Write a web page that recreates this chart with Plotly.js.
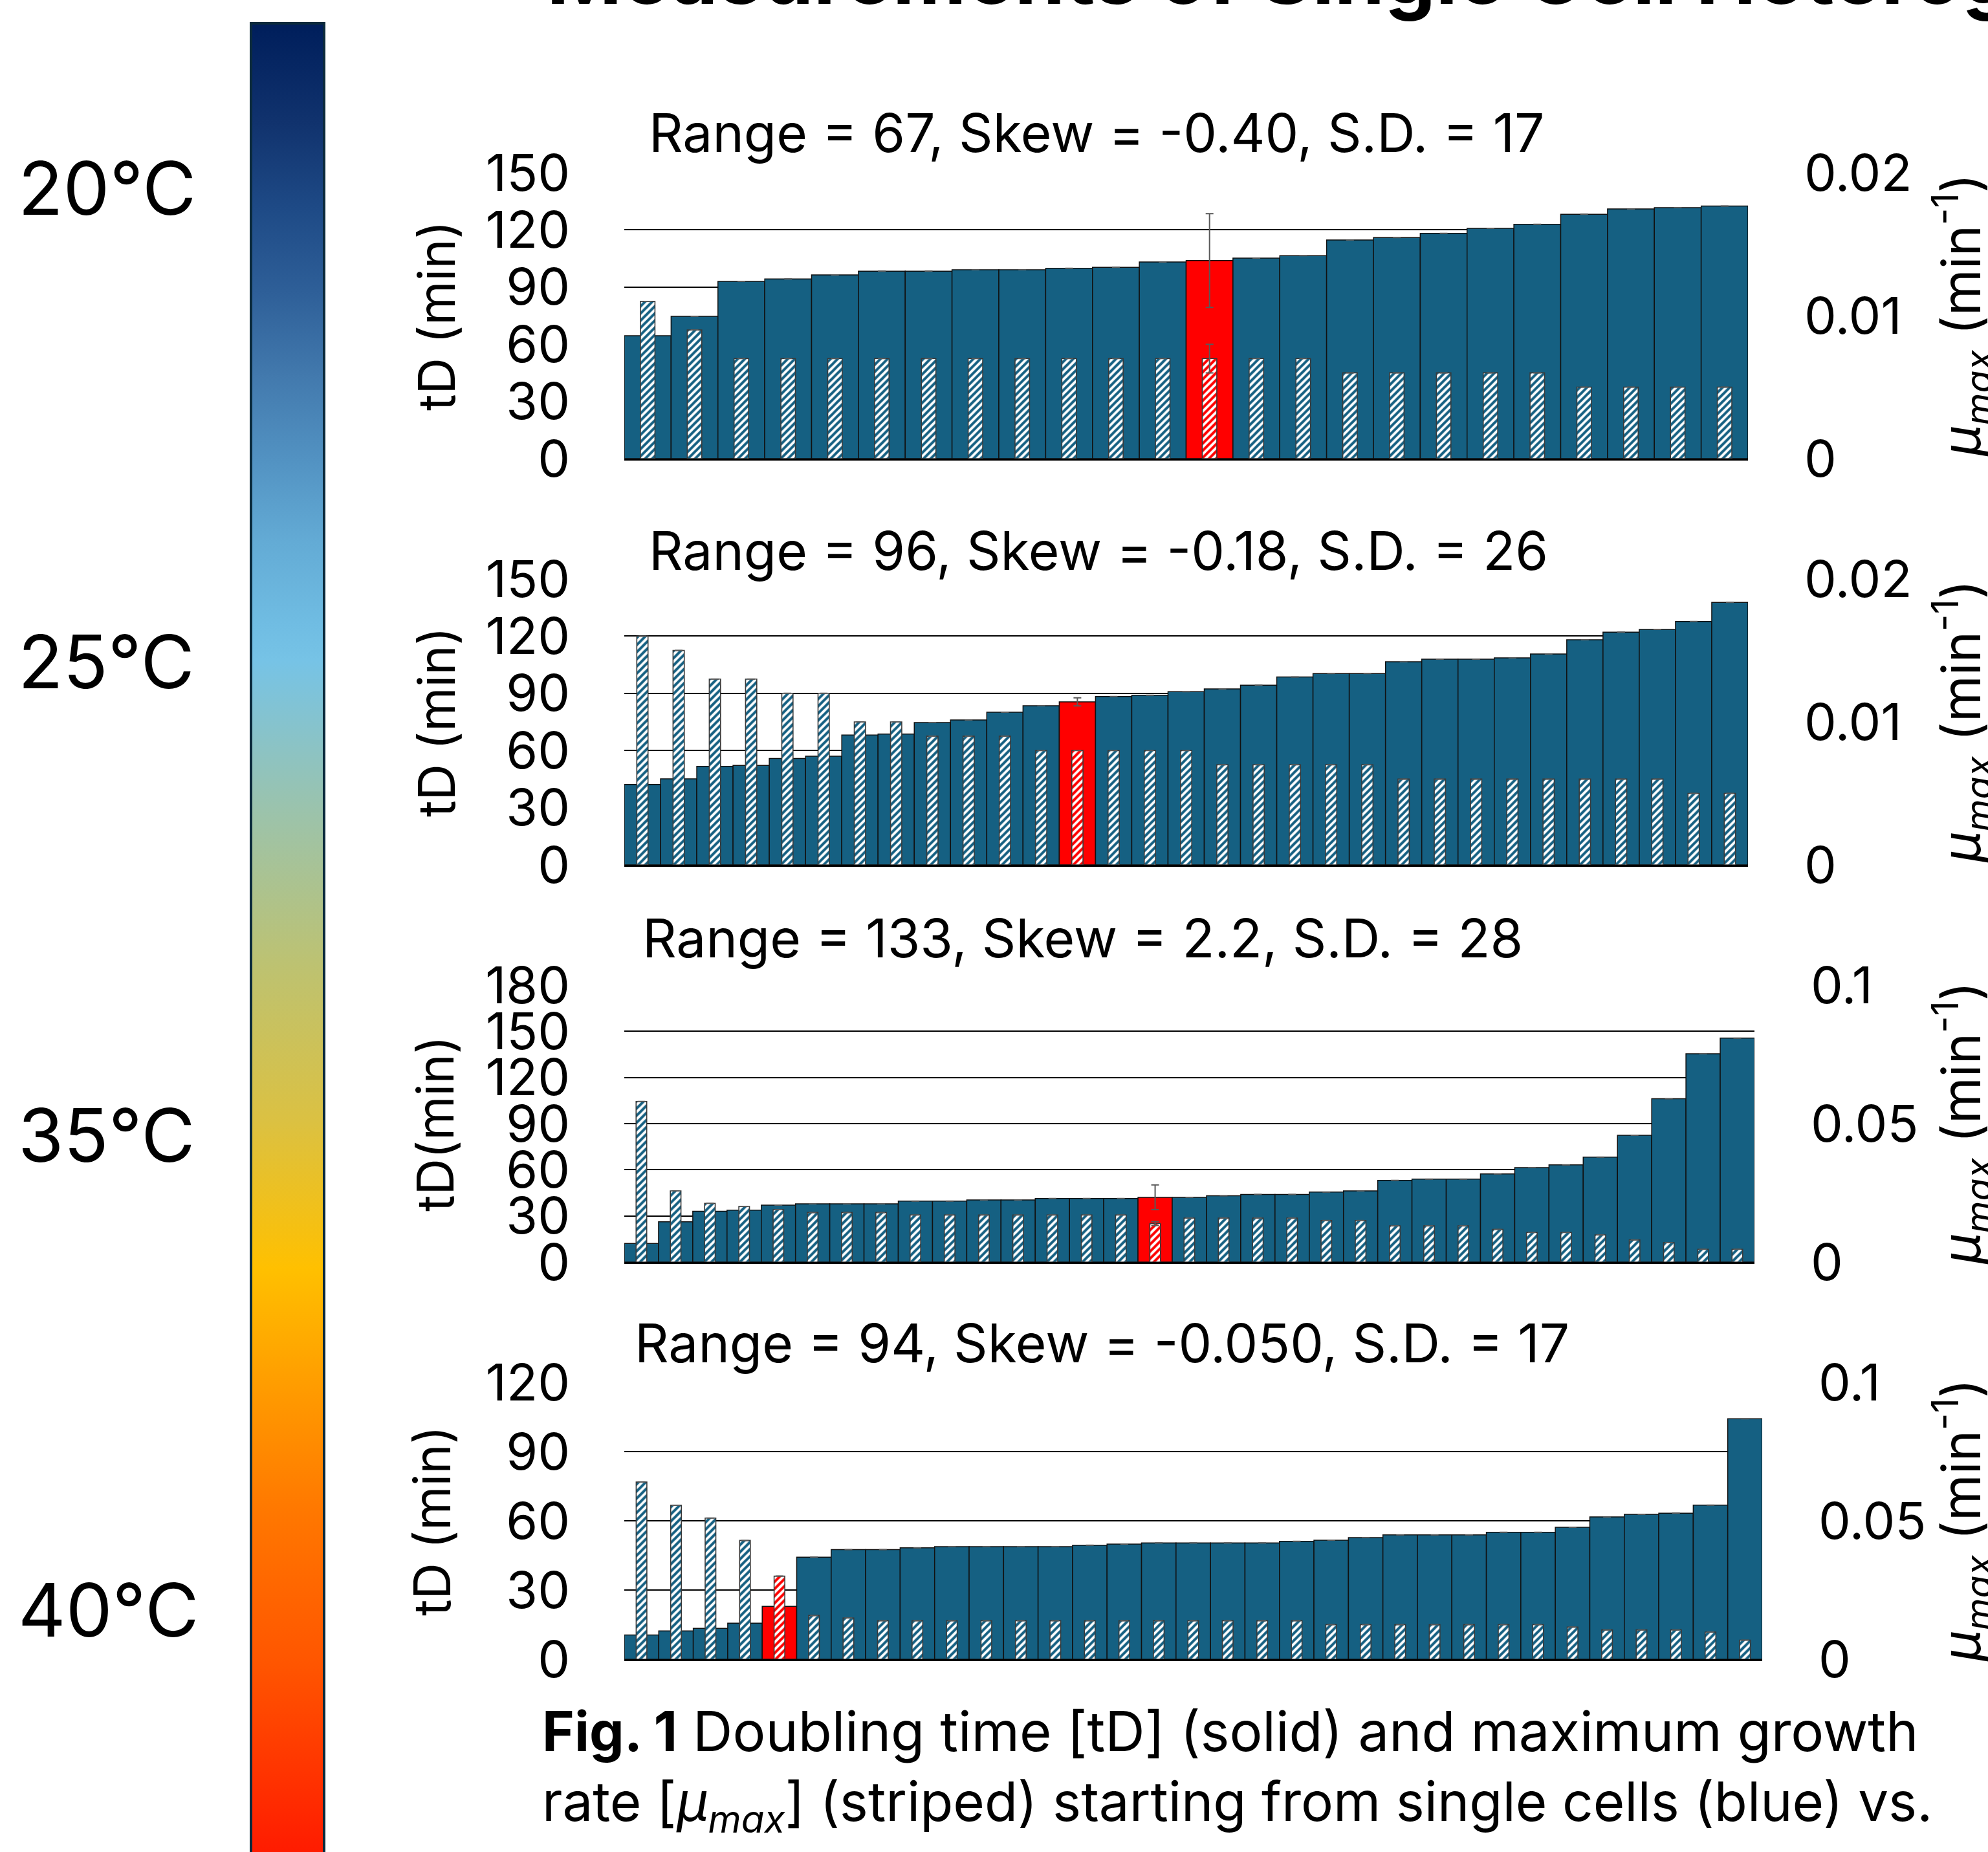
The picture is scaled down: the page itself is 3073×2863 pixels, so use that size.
<!DOCTYPE html>
<html><head><meta charset="utf-8">
<script src="https://cdn.plot.ly/plotly-3.0.1.min.js"></script>
<style>html,body{margin:0;padding:0;background:#fff}#chart{width:3073px;height:2863px}</style>
</head><body><div id="chart"></div>
<script>
const W = 3073, H = 2863;

// ---------------- data ----------------
// Panel 1 (20 °C)
const p1_tD = [64.5, 74.7, 93.0, 94.3, 96.4, 98.3, 98.3, 99.1, 99.1, 99.9, 100.4, 103.2, 103.9, 105.2, 106.5, 114.7, 116.0, 118.2, 120.8, 122.9, 128.2, 131.0, 131.7, 132.5];
const p1_mu = [0.011, 0.009, 0.007, 0.007, 0.007, 0.007, 0.007, 0.007, 0.007, 0.007, 0.007, 0.007, 0.007, 0.007, 0.007, 0.006, 0.006, 0.006, 0.006, 0.006, 0.005, 0.005, 0.005, 0.005];
const p1_redIndex = 12, p1_tDErr = 24.6, p1_muErr = 0.001;
// Panel 2 (25 °C)
const p2_tD = [42.2, 45.1, 51.7, 52.2, 55.8, 57.0, 68.1, 68.6, 74.7, 76.0, 80.1, 83.5, 85.5, 88.3, 89.0, 90.9, 92.3, 94.3, 98.6, 100.4, 100.4, 106.6, 107.9, 107.9, 108.6, 110.6, 118.1, 122.1, 123.5, 127.7, 137.7];
const p2_mu = [0.016, 0.015, 0.013, 0.013, 0.012, 0.012, 0.010, 0.010, 0.009, 0.009, 0.009, 0.008, 0.008, 0.008, 0.008, 0.008, 0.007, 0.007, 0.007, 0.007, 0.007, 0.006, 0.006, 0.006, 0.006, 0.006, 0.006, 0.006, 0.006, 0.005, 0.005];
const p2_redIndex = 12, p2_tDErr = 2.1, p2_muErr = 0;
// Panel 3 (35 °C)
const p3_tD = [12.1, 26.2, 33.0, 33.8, 37.0, 37.8, 37.8, 37.8, 39.6, 39.6, 40.4, 40.4, 41.3, 41.3, 41.3, 42.1, 42.1, 43.1, 43.9, 43.9, 45.5, 46.3, 53.1, 53.9, 53.9, 57.3, 61.4, 63.2, 68.2, 82.4, 106.2, 135.4, 145.6];
const p3_mu = [0.058, 0.0257, 0.0212, 0.0201, 0.0189, 0.0179, 0.0179, 0.0179, 0.0170, 0.0170, 0.0170, 0.0170, 0.0170, 0.0170, 0.0170, 0.0139, 0.0159, 0.0159, 0.0159, 0.0159, 0.0150, 0.0150, 0.0131, 0.0131, 0.0131, 0.0118, 0.0107, 0.0107, 0.0098, 0.0080, 0.0070, 0.0046, 0.0046];
const p3_redIndex = 15, p3_tDErr = 8.0, p3_muErr = 0.0007;
// Panel 4 (40 °C)
const p4_tD = [10.5, 12.3, 13.4, 15.6, 22.9, 44.2, 47.5, 47.5, 48.3, 48.8, 48.8, 48.8, 48.8, 49.4, 49.9, 50.4, 50.4, 50.4, 50.4, 51.1, 51.6, 52.7, 53.9, 53.9, 53.9, 55.0, 55.0, 57.2, 61.7, 62.8, 63.3, 66.8, 104.2];
const p4_mu = [0.064, 0.0556, 0.051, 0.0429, 0.030, 0.0158, 0.0149, 0.0139, 0.0139, 0.0139, 0.0139, 0.0139, 0.0139, 0.0139, 0.0139, 0.0139, 0.0139, 0.0139, 0.0139, 0.0139, 0.0125, 0.0125, 0.0125, 0.0125, 0.0125, 0.0125, 0.0125, 0.0116, 0.0106, 0.0106, 0.0106, 0.0098, 0.0069];
const p4_redIndex = 4, p4_tDErr = 0, p4_muErr = 0;

const panelStats = [
  "Range = 67, Skew = -0.40, S.D. = 17",
  "Range = 96, Skew = -0.18, S.D. = 26",
  "Range = 133, Skew = 2.2, S.D. = 28",
  "Range = 94, Skew = -0.050, S.D. = 17"
];
const leftTicks150 = [0, 30, 60, 90, 120, 150];
const leftTicks180 = [0, 30, 60, 90, 120, 150, 180];
const leftTicks120 = [0, 30, 60, 90, 120];
const rightTicksSmall = [0, 0.01, 0.02];
const rightTicksSmallText = ["0", "0.01", "0.02"];
const rightTicksLarge = [0, 0.05, 0.1];
const rightTicksLargeText = ["0", "0.05", "0.1"];
const leftTitles = ["tD (min)", "tD (min)", "tD(min)", "tD (min)"];
const rightTitle = "<i>μ<sub>max</sub></i> (min<sup>-1</sup>)";
const tempLabels = ["20°C", "25°C", "35°C", "40°C"];
const figTitle = "Measurements of Single Cell Heterogeneity";
const caption1 = "<b>Fig. 1</b> Doubling time [tD] (solid) and maximum growth";
const caption2 = "rate [<i>μ<sub>max</sub></i>] (striped) starting from single cells (blue) vs.";

// ---------------- style / layout ----------------
const BLUE = "#156082", RED = "#FF0000";
const FONT = "Inter";
const fx = p => p / W, fy = p => 1 - p / H;

const panels = [
  {tD: p1_tD, mu: p1_mu, red: p1_redIndex, tDErr: p1_tDErr, muErr: p1_muErr, tDMax: 150, muMax: 0.02, lt: leftTicks150, rv: rightTicksSmall, rt: rightTicksSmallText,
   x0: 965, x1: 2702, yTop: 267, yBot: 709, statX: 1001, statY: 205, ltX: 674},
  {tD: p2_tD, mu: p2_mu, red: p2_redIndex, tDErr: p2_tDErr, muErr: p2_muErr, tDMax: 150, muMax: 0.02, lt: leftTicks150, rv: rightTicksSmall, rt: rightTicksSmallText,
   x0: 965, x1: 2702, yTop: 895, yBot: 1337, statX: 1001, statY: 851, ltX: 674},
  {tD: p3_tD, mu: p3_mu, red: p3_redIndex, tDErr: p3_tDErr, muErr: p3_muErr, tDMax: 180, muMax: 0.1, lt: leftTicks180, rv: rightTicksLarge, rt: rightTicksLargeText,
   x0: 965, x1: 2712, yTop: 1523, yBot: 1951, statX: 991, statY: 1450, ltX: 672},
  {tD: p4_tD, mu: p4_mu, red: p4_redIndex, tDErr: p4_tDErr, muErr: p4_muErr, tDMax: 120, muMax: 0.1, lt: leftTicks120, rv: rightTicksLarge, rt: rightTicksLargeText,
   x0: 965, x1: 2724, yTop: 2137, yBot: 2565, statX: 979, statY: 2076, ltX: 667}
];

const data = [];
const layout = {
  width: W, height: H,
  margin: {l: 0, r: 0, t: 0, b: 0, pad: 0, autoexpand: false},
  paper_bgcolor: "#fff", plot_bgcolor: "rgba(0,0,0,0)",
  showlegend: false, barmode: "overlay",
  font: {family: FONT, color: "#000"},
  annotations: []
};

const tickFont = {family: FONT, size: 79, color: "#000"};

panels.forEach((p, i) => {
  const n = p.tD.length;
  const xs = p.tD.map((_, k) => k + 1);
  const xa = "x" + (i + 1), ya = "y" + (2 * i + 1), yb = "y" + (2 * i + 2);
  const colors = p.tD.map((_, k) => k === p.red ? RED : BLUE);
  // solid bars: doubling time
  data.push({
    type: "bar", x: xs, y: p.tD, xaxis: xa, yaxis: ya, width: 1,
    marker: {color: colors, line: {color: "#111", width: 1.5}},
    error_y: {type: "data", array: p.tD.map((_, k) => k === p.red ? p.tDErr : 0), visible: true, color: "#595959", thickness: 2, width: 6},
    hoverinfo: "skip"
  });
  // striped bars: maximum growth rate
  data.push({
    type: "bar", x: xs, y: p.mu, xaxis: xa, yaxis: yb, width: 0.31,
    marker: {color: "#ffffff", line: {color: "#3a3a3a", width: 1.6},
             pattern: {shape: "/", fillmode: "replace", fgcolor: colors, bgcolor: "#ffffff", fgopacity: 1, size: 7.8, solidity: 0.52}},
    error_y: {type: "data", array: p.mu.map((_, k) => k === p.red ? p.muErr : 0), visible: true, color: "#595959", thickness: 2, width: 6},
    hoverinfo: "skip"
  });
  layout["xaxis" + (i + 1)] = {
    domain: [fx(p.x0), fx(p.x1)], range: [0.5, n + 0.5], anchor: ya,
    showticklabels: false, ticks: "", showgrid: false, zeroline: false,
    showline: true, linecolor: "#000", linewidth: 3, fixedrange: true
  };
  layout["yaxis" + (2 * i + 1)] = {
    domain: [fy(p.yBot), fy(p.yTop)], range: [0, p.tDMax], anchor: xa,
    tickvals: p.lt, ticktext: p.lt.map(String), ticks: "",
    showgrid: true, gridcolor: "#000", gridwidth: 2, zeroline: false, showline: false,
    tickfont: tickFont, ticklabelstandoff: 83, fixedrange: true
  };
  layout["yaxis" + (2 * i + 2)] = {
    overlaying: ya, side: "right", anchor: xa, range: [0, p.muMax],
    tickvals: p.rv, ticktext: p.rt, ticks: "",
    showgrid: false, zeroline: false, showline: false,
    tickfont: tickFont, ticklabelstandoff: 86, fixedrange: true
  };
  layout.annotations.push({
    text: panelStats[i], xref: "paper", yref: "paper", x: fx(p.statX), y: fy(p.statY),
    xanchor: "left", yanchor: "middle", showarrow: false, font: {family: FONT, size: 82, color: "#000"}
  });
  const yc = (p.yTop + p.yBot) / 2;
  layout.annotations.push({
    text: leftTitles[i], xref: "paper", yref: "paper", x: fx(p.ltX), y: fy(yc),
    xanchor: "center", yanchor: "middle", textangle: -90, showarrow: false, font: {family: FONT, size: 78, color: "#000"}
  });
  layout.annotations.push({
    text: rightTitle, xref: "paper", yref: "paper", x: fx(3032), y: fy(yc),
    xanchor: "center", yanchor: "middle", textangle: -90, showarrow: false, font: {family: FONT, size: 82, color: "#000"}
  });
});

// temperature colour bar (drawn as a Plotly colorbar)
const cbScale = [
  [0.0, "#FF1500"], [0.1125, "#FF5500"], [0.1967, "#FF7800"], [0.2596, "#FF9A00"],
  [0.3269, "#FFC000"], [0.4068, "#DBC142"], [0.491, "#BDC271"], [0.5748, "#9BC3AC"],
  [0.6555, "#76C3E6"], [0.6742, "#70BDE3"], [0.7195, "#63ABD5"], [0.7644, "#5292C2"],
  [0.8097, "#4279AD"], [0.855, "#2E5F98"], [0.8999, "#1E4A86"], [0.9452, "#11336E"],
  [0.9968, "#001F5C"], [1.0, "#001E5A"]
];
data.push({
  type: "scatter", mode: "markers", x: [0], y: [0], xaxis: "x1", yaxis: "y1", cliponaxis: true,
  hoverinfo: "skip",
  marker: {size: 1, color: [0], colorscale: cbScale, cmin: 0, cmax: 1, showscale: true,
    colorbar: {x: fx(388), xanchor: "left", y: fy(36), yanchor: "top", len: 2860, lenmode: "pixels",
      thickness: 113, thicknessmode: "pixels", outlinewidth: 4, outlinecolor: "#0B2A3C",
      showticklabels: false, ticks: "", xpad: 0, ypad: 0, borderwidth: 0, bgcolor: "rgba(0,0,0,0)"}}
});
const tempY = [290, 1023, 1754, 2488];
tempLabels.forEach((t, k) => {
  layout.annotations.push({
    text: t, xref: "paper", yref: "paper", x: fx(26), y: fy(tempY[k]),
    xanchor: "left", yanchor: "middle", showarrow: false, font: {family: FONT, size: 114, color: "#000"}
  });
});

// figure title (cut off at the top) and caption
layout.annotations.push({
  text: "<b>" + figTitle + "</b>", xref: "paper", yref: "paper", x: fx(843), y: fy(38),
  xanchor: "left", yanchor: "bottom", showarrow: false, font: {family: FONT, size: 125, color: "#000"}
});
layout.annotations.push({
  text: caption1, xref: "paper", yref: "paper", x: fx(836), y: fy(2676),
  xanchor: "left", yanchor: "middle", showarrow: false, font: {family: FONT, size: 85, color: "#000"}
});
layout.annotations.push({
  text: caption2, xref: "paper", yref: "paper", x: fx(836), y: fy(2790),
  xanchor: "left", yanchor: "middle", showarrow: false, font: {family: FONT, size: 83.5, color: "#000"}
});

Plotly.newPlot("chart", data, layout, {staticPlot: true, displayModeBar: false});
</script>
</body></html>
